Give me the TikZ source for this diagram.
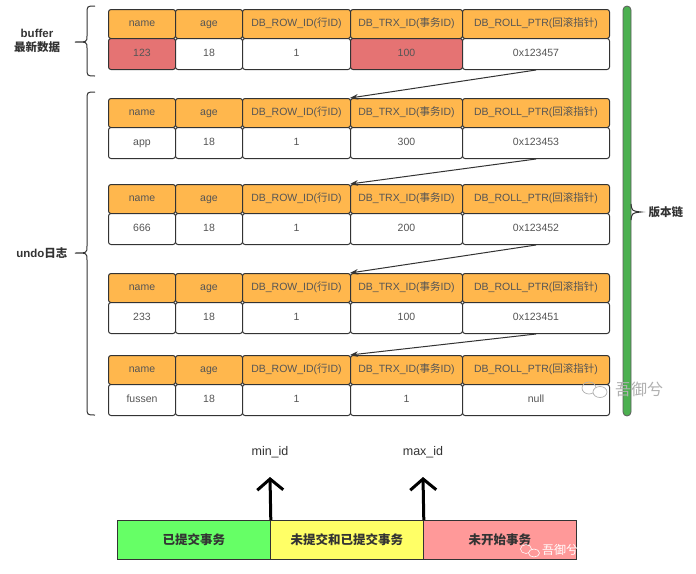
\documentclass[tikz,border=0pt]{standalone}
\usepackage{fontspec}
\setmainfont{Liberation Sans}
\newfontfamily\cjk{Noto Sans CJK SC}
\newcommand\zh[1]{{\cjk #1}}
\usetikzlibrary{arrows.meta}
\definecolor{hdc}{HTML}{FFB74D}
\definecolor{redc}{HTML}{E57373}
\definecolor{linec}{HTML}{333333}
\definecolor{txtc}{HTML}{555555}
\definecolor{greenc}{HTML}{4CB050}
\definecolor{segg}{HTML}{66FF66}
\definecolor{segy}{HTML}{FFFF66}
\definecolor{segr}{HTML}{FF9999}
\definecolor{wmc}{HTML}{B0B0B0}
\tikzset{
  cellbase/.style={draw=linec, line width=1pt, rounded corners=2.5pt, inner sep=0pt,
    font=\fontsize{10.5}{12}\selectfont, text=txtc, anchor=north west,
    text height=6.5pt, text depth=2pt},
  hd/.style={cellbase, fill=hdc, minimum height=29pt},
  dt/.style={cellbase, fill=white, minimum height=31pt},
  link/.style={draw=linec, line width=1pt, -{Stealth[length=8pt,width=5.5pt]}},
  bracecurve/.style={draw=linec, line width=1pt},
  seg/.style={draw=linec, line width=0.8pt, anchor=north west, minimum height=39pt, inner sep=0pt,
    font=\fontsize{12.5}{14}\selectfont\bfseries\cjk, text=linec},
  bigarrow/.style={draw=black, line width=3pt, -{Straight Barb[length=11pt,width=26pt,line width=3pt]}},
  lbl/.style={font=\fontsize{11.5}{14}\selectfont\bfseries, text=linec, align=center},
  idl/.style={font=\fontsize{12.5}{14}\selectfont, text=linec},
}
\newcommand\dbtab[7]{%
  \node[hd, minimum width=67pt]  (#1h1) at (108,#2) {name};
  \node[hd, minimum width=67pt]  (#1h2) at (175,#2) {age};
  \node[hd, minimum width=108pt] (#1h3) at (242,#2) {DB\_ROW\_ID(\zh{行}ID)};
  \node[hd, minimum width=112pt] (#1h4) at (350,#2) {DB\_TRX\_ID(\zh{事务}ID)};
  \node[hd, minimum width=147pt] (#1h5) at (462,#2) {DB\_ROLL\_PTR(\zh{回滚指针})};
  \node[dt, fill=#6, minimum width=67pt]  (#1d1) at (108,{#2+29}) {#3};
  \node[dt, minimum width=67pt]  (#1d2) at (175,{#2+29}) {18};
  \node[dt, minimum width=108pt] (#1d3) at (242,{#2+29}) {1};
  \node[dt, fill=#7, minimum width=112pt] (#1d4) at (350,{#2+29}) {#4};
  \node[dt, minimum width=147pt] (#1d5) at (462,{#2+29}) {#5};
}
\begin{document}
\begin{tikzpicture}[x=1pt,y=-1pt]
\useasboundingbox[fill=white] (0,0) rectangle (696,573);

% tables
\dbtab{ta}{9}{123}{100}{0x123457}{redc}{redc}
\dbtab{tb}{98}{app}{300}{0x123453}{white}{white}
\dbtab{tc}{184}{666}{200}{0x123452}{white}{white}
\dbtab{td}{273}{233}{100}{0x123451}{white}{white}
\dbtab{te}{355}{fussen}{1}{null}{white}{white}

% version chain links
\draw[link] (tad5.south) -- (tbh4.north west);
\draw[link] (tbd5.south) -- (tch4.north west);
\draw[link] (tcd5.south) -- (tdh4.north west);
\draw[link] (tdd5.south) -- (teh4.north west);

% left braces
\draw[bracecurve] (95,6) .. controls (87,6) .. (87,14) -- (87,36)
   .. controls (87,42) .. (75,42) .. controls (87,42) .. (87,48) -- (87,68)
   .. controls (87,76) .. (95,76);
\draw[bracecurve] (95,92) .. controls (87,92) .. (87,100) -- (87,246)
   .. controls (87,253) .. (75,253) .. controls (87,253) .. (87,260) -- (87,407)
   .. controls (87,415) .. (95,415);
\node[lbl] (buf) at (37,41) {buffer\\\zh{最新数据}};
\node[lbl, anchor=east] (undo) at (71,253) {undo\zh{日志}};

% green version chain bracket
\draw[draw=linec!80, fill=greenc, line width=0.8pt, rounded corners=4pt] (623,6) rectangle (631,416);
\draw[bracecurve] (631,204) .. controls (632,211) .. (641,212) .. controls (632,213) .. (631,220);
\node[lbl, anchor=west] (chain) at (645,212) {\zh{版本链}};

% watermark (top)
\draw[wmc, line width=0.7pt] (589,388) ellipse (7pt and 6pt);
\draw[wmc, line width=0.7pt, fill=white] (600,392) ellipse (7pt and 5.5pt);
\node[font=\fontsize{16}{18}\selectfont\cjk, text=wmc] (wm1) at (639,389) {吾御兮};

% bottom transaction range bar
\node[seg, fill=segg, minimum width=153pt] (s1) at (117,520) {已提交事务};
\node[seg, fill=segy, minimum width=153pt] (s2) at (270,520) {未提交和已提交事务};
\node[seg, fill=segr, minimum width=153pt] (s3) at (423,520) {未开始事务};

\node[idl] (minid) at (270,452) {min\_id};
\node[idl] (maxid) at (423,452) {max\_id};
\coordinate (tipa) at (270,477);
\coordinate (tipb) at (423,477);
\draw[bigarrow] (s1.north east) -- (tipa);
\draw[bigarrow] (s2.north east) -- (tipb);

% watermark (bottom)
\draw[white, line width=0.6pt] (526,549) ellipse (5.5pt and 4.5pt);
\draw[white, line width=0.6pt, fill=segr] (534,553) ellipse (5.5pt and 4pt);
\node[font=\fontsize{12}{14}\selectfont\cjk, text=white] (wm2) at (560,550) {吾御兮};
\end{tikzpicture}
\end{document}
